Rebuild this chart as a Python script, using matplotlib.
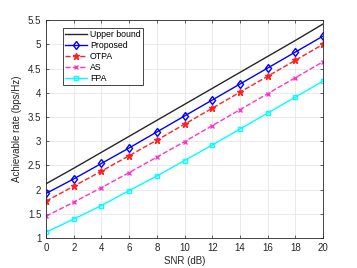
import numpy as np
import matplotlib
matplotlib.use('Agg')
import matplotlib.pyplot as plt

snr = [0, 2, 4, 6, 8, 10, 12, 14, 16, 18, 20]
upper = [2.12, 2.44, 2.77, 3.10, 3.43, 3.76, 4.09, 4.42, 4.75, 5.08, 5.42]
proposed = [1.92, 2.22, 2.54, 2.86, 3.19, 3.52, 3.85, 4.18, 4.51, 4.84, 5.17]
otpa = [1.76, 2.07, 2.38, 2.70, 3.02, 3.35, 3.68, 4.01, 4.34, 4.67, 5.00]
asel = [1.45, 1.74, 2.04, 2.35, 2.67, 2.99, 3.32, 3.65, 3.98, 4.31, 4.64]
fpa = [1.12, 1.39, 1.67, 1.98, 2.28, 2.60, 2.92, 3.25, 3.58, 3.91, 4.24]

plt.rcParams['font.family'] = ['Liberation Sans', 'DejaVu Sans']

fig = plt.figure(figsize=(3.57, 2.68), dpi=100)
ax = fig.add_axes([0.129, 0.112, 0.776, 0.813])

ax.plot(snr, upper, '-', color='#262626', lw=1, label='Upper bound')
ax.plot(snr, proposed, '-d', color='#0000ff', lw=1, ms=4.5, mfc='none', mew=1, label='Proposed')
ax.plot(snr, otpa, '--*', color='#ff2020', lw=1, ms=4.5, label='OTPA')
ax.plot(snr, asel, '--x', color='#ff33cc', lw=1, ms=3.5, mew=1, label='AS')
ax.plot(snr, fpa, '-s', color='#00ffff', lw=1, ms=3.5, mfc='none', mew=1, label='FPA')

ax.set_xlim(0, 20)
ax.set_ylim(1, 5.5)
ax.set_xticks(np.arange(0, 21, 2))
ax.set_yticks(np.arange(1, 5.6, 0.5))
ax.set_yticklabels(['1', '1.5', '2', '2.5', '3', '3.5', '4', '4.5', '5', '5.5'])
ax.grid(True, color='#e6e6e6', lw=0.6)
ax.set_axisbelow(True)
ax.tick_params(direction='in', labelsize=7, colors='#262626', length=2.5, width=0.5,
               top=True, right=True, labeltop=False, labelright=False)
for s in ax.spines.values():
    s.set_color('#262626')
    s.set_linewidth(0.6)
ax.set_xlabel('SNR (dB)', fontsize=7, color='#262626', labelpad=2)
ax.set_ylabel('Achievable rate (bps/Hz)', fontsize=7, color='#262626', labelpad=4)

leg = ax.legend(loc='upper left', bbox_to_anchor=(0.05, 0.975), fontsize=6.3,
                fancybox=False, edgecolor='#262626', framealpha=1,
                handlelength=2.6, borderpad=0.25, labelspacing=0.22, handletextpad=0.3,
                borderaxespad=0.3)
leg.get_frame().set_linewidth(0.6)

fig.savefig('out.png', dpi=100)
